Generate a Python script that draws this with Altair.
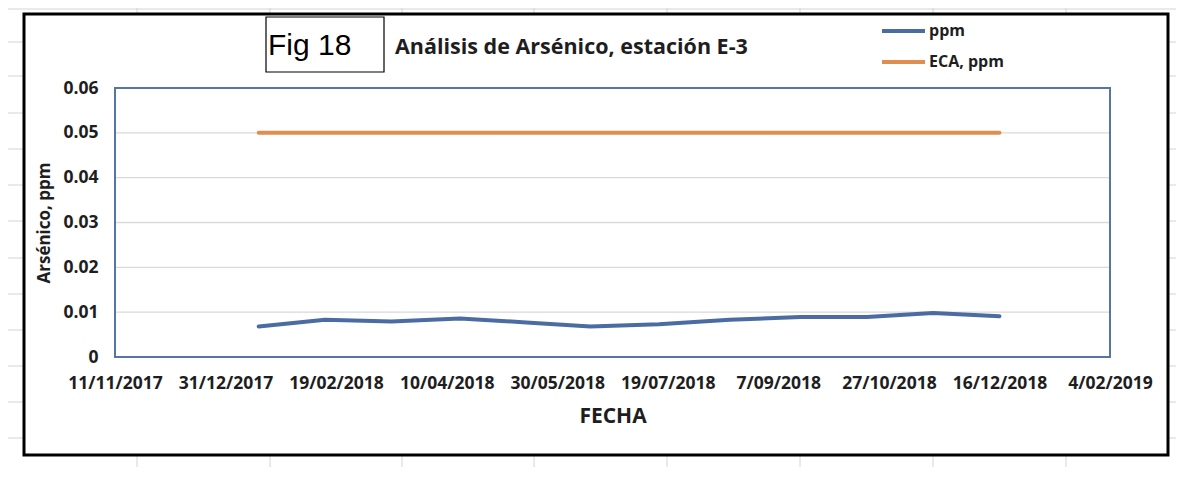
import altair as alt
import pandas as pd

# ---------------- data ----------------
sample_dates = ["2018-01-15", "2018-02-14", "2018-03-16", "2018-04-16", "2018-05-16", "2018-06-14",
                "2018-07-15", "2018-08-16", "2018-09-17", "2018-10-17", "2018-11-16", "2018-12-16"]
ppm_values = [0.0068, 0.0083, 0.0079, 0.0086, 0.0077, 0.0068,
              0.0073, 0.0083, 0.0089, 0.0089, 0.0098, 0.0091]
eca_values = [0.05, 0.05, 0.05, 0.05, 0.05, 0.05, 0.05, 0.05, 0.05, 0.05, 0.05, 0.05]
series_names = ["ppm", "ECA, ppm"]
series_colors = ["#4A6CA3", "#E08E4E"]
y_ticks = [0, 0.01, 0.02, 0.03, 0.04, 0.05, 0.06]
x_ticks = ["2017-11-11", "2017-12-31", "2018-02-19", "2018-04-10", "2018-05-30",
           "2018-07-19", "2018-09-07", "2018-10-27", "2018-12-16", "2019-02-04"]
chart_title = "Análisis de Arsénico, estación E-3"
fig_label = "Fig 18"
x_title = "FECHA"
y_title = "Arsénico, ppm"

# ---------------- layout (page pixels) ----------------
OX, OY = 115, 88          # plot origin on the page
W, H = 995, 269           # plot area
FONT = "Open Sans"
TXT = "#1E1E1E"


def ms(s):
    return int(pd.Timestamp(s, tz="UTC").value // 10**6)


long_df = pd.DataFrame({
    "date": sample_dates * 2,
    "value": ppm_values + eca_values,
    "series": [series_names[0]] * len(sample_dates) + [series_names[1]] * len(sample_dates),
})

xscale = alt.Scale(type="utc", domain=[ms(x_ticks[0]), ms(x_ticks[-1])])
yscale = alt.Scale(domain=[y_ticks[0], y_ticks[-1]], nice=False, zero=True)

xaxis = alt.Axis(values=[ms(t) for t in x_ticks],
                 labelExpr="utcFormat(datum.value, '%-d/%m/%Y')",
                 labelFont=FONT, labelFontWeight="bold", labelFontSize=17.5, labelColor=TXT,
                 labelPadding=17, domain=False, ticks=False, tickSize=0, grid=False,
                 labelOverlap=False, labelFlush=False,
                 title=x_title, titleFont=FONT, titleFontWeight="bold", titleFontSize=21,
                 titleColor=TXT, titlePadding=14, zindex=1)
yaxis = alt.Axis(values=y_ticks, format=".2~f",
                 labelFont=FONT, labelFontWeight="bold", labelFontSize=17.5, labelColor=TXT,
                 labelPadding=17, domain=False, ticks=False, tickSize=0, grid=False,
                 title=y_title, titleFont=FONT, titleFontWeight="bold", titleFontSize=17,
                 titleColor=TXT, titlePadding=9, zindex=1)

one = pd.DataFrame({"k": [0]})
layers = []

# spreadsheet cell lines behind the chart
sheet_cols = [137, 270, 402, 534, 667, 800, 933, 1066]
sheet_rows = [9, 42, 76, 113, 149, 185, 221, 258, 294, 330, 366, 402, 438, 474]
for cx in sheet_cols:
    layers.append(alt.Chart(one).mark_rule(color="#D4D4D4", strokeWidth=1).encode(
        x=alt.value(cx - OX), y=alt.value(0 - OY), y2=alt.value(481 - OY)))
for ry in sheet_rows:
    layers.append(alt.Chart(one).mark_rule(color="#D4D4D4", strokeWidth=1).encode(
        y=alt.value(ry - OY), x=alt.value(0 - OX), x2=alt.value(1191 - OX)))

# chart frame
layers.append(alt.Chart(one).mark_rect(fill="white", stroke="black", strokeWidth=3).encode(
    x=alt.value(24 - OX), x2=alt.value(1168 - OX), y=alt.value(14 - OY), y2=alt.value(455 - OY)))

# "Fig 18" box
layers.append(alt.Chart(one).mark_rect(fill="white", stroke="black", strokeWidth=1.2).encode(
    x=alt.value(266 - OX), x2=alt.value(384 - OX), y=alt.value(17 - OY), y2=alt.value(72 - OY)))
layers.append(alt.Chart(one).mark_text(text=fig_label, font="Liberation Sans", fontSize=30,
                                       align="left", baseline="alphabetic", color="black").encode(
    x=alt.value(268 - OX), y=alt.value(55 - OY)))

# chart title
layers.append(alt.Chart(one).mark_text(text=chart_title, font=FONT, fontWeight="bold", fontSize=21.5,
                                       align="left", baseline="alphabetic", color=TXT).encode(
    x=alt.value(395 - OX), y=alt.value(54 - OY)))

# legend
leg_y = [31, 62]
for name, col, ly in zip(series_names, series_colors, leg_y):
    layers.append(alt.Chart(one).mark_rule(color=col, strokeWidth=4).encode(
        x=alt.value(882 - OX), x2=alt.value(925 - OX), y=alt.value(ly - OY)))
    layers.append(alt.Chart(one).mark_text(text=name, font=FONT, fontWeight="bold", fontSize=16,
                                           align="left", baseline="middle", color=TXT).encode(
        x=alt.value(929 - OX), y=alt.value(ly - OY)))

# horizontal gridlines
grid_df = pd.DataFrame({"value": y_ticks[1:-1]})
layers.append(alt.Chart(grid_df).mark_rule(color="#D9D9D9", strokeWidth=1.3).encode(
    y=alt.Y("value:Q", scale=yscale, axis=yaxis),
    x=alt.value(0), x2=alt.value(W)))

# plot area border
layers.append(alt.Chart(one).mark_rect(fillOpacity=0, stroke="#5674A6", strokeWidth=2).encode(
    x=alt.value(0), x2=alt.value(W), y=alt.value(0), y2=alt.value(H)))

# data lines
layers.append(alt.Chart(long_df).mark_line(strokeWidth=4, strokeCap="round", strokeJoin="round").encode(
    x=alt.X("date:T", scale=xscale, axis=xaxis),
    y=alt.Y("value:Q", scale=yscale, axis=yaxis),
    color=alt.Color("series:N", scale=alt.Scale(domain=series_names, range=series_colors), legend=None),
))

chart = alt.layer(*layers).properties(
    width=W, height=H,
    autosize=alt.AutoSizeParams(type="none"),
    padding={"left": OX - 8, "top": OY - 8, "right": 66, "bottom": 110},
).configure_view(stroke=None).configure(background="white")

chart.save("out.html", embed_options={"renderer": "svg", "actions": False})
